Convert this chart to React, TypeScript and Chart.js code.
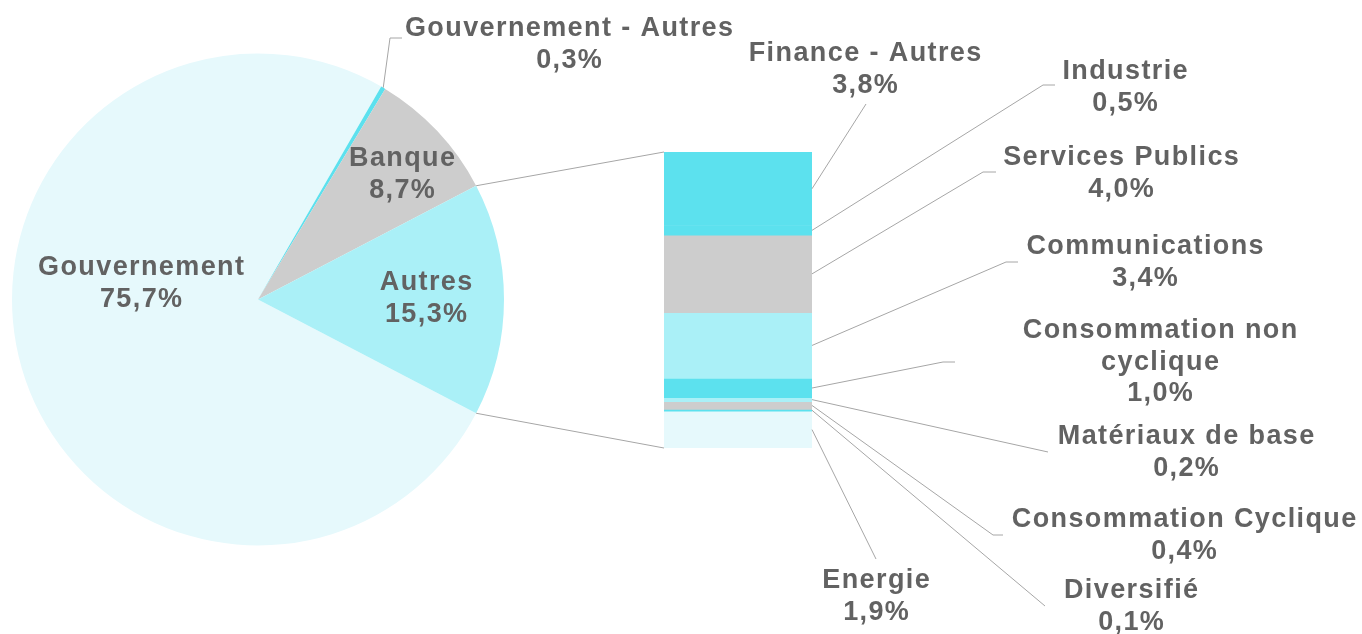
import React, { useEffect, useRef } from 'react';
import { Chart, registerables } from 'chart.js';

Chart.register(...registerables);

// ---------- data ----------
const pieLabels = ['Gouvernement', 'Gouvernement - Autres', 'Banque', 'Autres'];
const pieValues = [75.7, 0.3, 8.7, 15.3];
const pieColors = ['#e6f9fc', '#5ce1ee', '#cdcdcd', '#aaf0f7'];

const barLabels = [
  'Finance - Autres',
  'Industrie',
  'Services Publics',
  'Communications',
  'Consommation non cyclique',
  'Matériaux de base',
  'Consommation Cyclique',
  'Diversifié',
  'Energie',
];
const barValues = [3.8, 0.5, 4.0, 3.4, 1.0, 0.2, 0.4, 0.1, 1.9];
const barColors = ['#5ce1ee', '#5ce1ee', '#cdcdcd', '#aaf0f7', '#5ce1ee', '#aaf0f7', '#cdcdcd', '#5ce1ee', '#e6f9fc'];

// ---------- layout (label placement) ----------
type Pos = { x: number; y: number; maxW?: number; elbow?: number[]; end?: number[] };
const pieLabelPos: Pos[] = [
  { x: 141, y: 268 },
  { x: 569, y: 29, elbow: [390, 38], end: [402, 38] },
  { x: 402, y: 159 },
  { x: 426, y: 283 },
];
const barLabelPos: Pos[] = [
  { x: 865, y: 54, end: [866, 104] },
  { x: 1125, y: 72, elbow: [1043, 85], end: [1055, 85] },
  { x: 1121, y: 158, elbow: [983, 172], end: [996, 172] },
  { x: 1145, y: 247, elbow: [1006, 262], end: [1018, 262] },
  { x: 1160, y: 331, maxW: 300, elbow: [943, 362], end: [955, 362] },
  { x: 1186, y: 437, end: [1048, 452] },
  { x: 1184, y: 520, elbow: [993, 535], end: [1003, 535] },
  { x: 1131, y: 591, end: [1045, 606] },
  { x: 876, y: 581, end: [876, 559] },
];

const W = 1362;
const H = 634;
const FONT = 'bold 27px "Liberation Sans", Arial, sans-serif';
const LETTER_SPACING = 1.4;
const TEXT_COLOR = '#626262';
const LINE_COLOR = '#a6a6a6';
const LINE_H = 31.5;

const fmt = (v: number) => v.toFixed(1).replace('.', ',') + '%';

function wrapText(ctx: CanvasRenderingContext2D, text: string, maxW?: number): string[] {
  if (!maxW) return [text];
  const words = text.split(' ');
  const lines: string[] = [];
  let cur = '';
  for (const w of words) {
    const test = cur ? cur + ' ' + w : w;
    if (cur && ctx.measureText(test).width > maxW) {
      lines.push(cur);
      cur = w;
    } else cur = test;
  }
  if (cur) lines.push(cur);
  return lines;
}

function drawLabel(ctx: CanvasRenderingContext2D, name: string, value: number, p: Pos) {
  ctx.save();
  ctx.font = FONT;
  (ctx as any).letterSpacing = LETTER_SPACING + 'px';
  ctx.fillStyle = TEXT_COLOR;
  ctx.textAlign = 'center';
  ctx.textBaseline = 'middle';
  const lines = [...wrapText(ctx, name, p.maxW), fmt(value)];
  lines.forEach((l, i) => ctx.fillText(l, p.x + LETTER_SPACING / 2, p.y + i * LINE_H));
  ctx.restore();
}

function drawLeader(ctx: CanvasRenderingContext2D, sx: number, sy: number, p: Pos) {
  if (!p.end) return;
  ctx.save();
  ctx.strokeStyle = LINE_COLOR;
  ctx.lineWidth = 1;
  ctx.beginPath();
  ctx.moveTo(sx, sy);
  if (p.elbow) ctx.lineTo(p.elbow[0], p.elbow[1]);
  ctx.lineTo(p.end[0], p.end[1]);
  ctx.stroke();
  ctx.restore();
}

export default function App() {
  const pieRef = useRef<HTMLCanvasElement>(null);
  const barRef = useRef<HTMLCanvasElement>(null);

  useEffect(() => {
    if (!pieRef.current || !barRef.current) return;
    const pieTotal = pieValues.reduce((a, b) => a + b, 0);
    const barTotal = barValues.reduce((a, b) => a + b, 0);
    const autresIdx = pieValues.length - 1;
    const rotation = 90 + (pieValues[autresIdx] / pieTotal) * 180;

    const pieLabelPlugin = {
      id: 'pieLabels',
      afterDraw(chart: any) {
        const ctx = chart.ctx;
        const meta = chart.getDatasetMeta(0);
        meta.data.forEach((el: any, i: number) => {
          const p = pieLabelPos[i];
          if (p.end) {
            const a = (el.startAngle + el.endAngle) / 2;
            drawLeader(ctx, el.x + el.outerRadius * Math.cos(a), el.y + el.outerRadius * Math.sin(a), p);
          }
          drawLabel(ctx, pieLabels[i], pieValues[i], p);
        });
      },
    };

    const pie = new Chart(pieRef.current, {
      type: 'pie',
      data: {
        labels: pieLabels,
        datasets: [{ data: pieValues, backgroundColor: pieColors, borderWidth: 0 }],
      },
      options: {
        responsive: false,
        animation: false,
        rotation,
        layout: { padding: { left: 12, right: 858, top: 53.5, bottom: 88.5 } },
        plugins: { legend: { display: false }, tooltip: { enabled: false } },
      },
      plugins: [pieLabelPlugin],
    });

    const barLabelPlugin = {
      id: 'barLabels',
      afterDraw(chart: any) {
        const ctx = chart.ctx;
        // connectors from the "Autres" slice to the bar
        const arc: any = pie.getDatasetMeta(0).data[autresIdx];
        let top = Infinity, bottom = -Infinity, left = Infinity;
        barValues.forEach((_, i) => {
          const el: any = chart.getDatasetMeta(i).data[0];
          top = Math.min(top, el.y, el.base);
          bottom = Math.max(bottom, el.y, el.base);
          left = Math.min(left, el.x - el.width / 2);
        });
        const aS = arc.startAngle, aE = arc.endAngle;
        const p1 = [arc.x + arc.outerRadius * Math.cos(aE), arc.y + arc.outerRadius * Math.sin(aE)];
        const p2 = [arc.x + arc.outerRadius * Math.cos(aS), arc.y + arc.outerRadius * Math.sin(aS)];
        const upper = p1[1] < p2[1] ? p1 : p2;
        const lower = p1[1] < p2[1] ? p2 : p1;
        ctx.save();
        ctx.strokeStyle = LINE_COLOR;
        ctx.lineWidth = 1;
        ctx.beginPath();
        ctx.moveTo(upper[0], upper[1]);
        ctx.lineTo(left, top);
        ctx.moveTo(lower[0], lower[1]);
        ctx.lineTo(left, bottom);
        ctx.stroke();
        ctx.restore();

        barValues.forEach((v, i) => {
          const el: any = chart.getDatasetMeta(i).data[0];
          const sx = el.x + el.width / 2;
          const sy = (el.y + el.base) / 2;
          drawLeader(ctx, sx, sy, barLabelPos[i]);
          drawLabel(ctx, barLabels[i], v, barLabelPos[i]);
        });
      },
    };

    const bar = new Chart(barRef.current, {
      type: 'bar',
      data: {
        labels: ['Autres'],
        datasets: barValues.map((v, i) => ({
          label: barLabels[i],
          data: [v],
          backgroundColor: barColors[i],
          borderWidth: 0,
          barPercentage: 1,
          categoryPercentage: 1,
        })),
      },
      options: {
        responsive: false,
        animation: false,
        layout: { padding: { left: 664, right: 550, top: 152, bottom: 186 } },
        scales: {
          x: { stacked: true, display: false },
          y: { stacked: true, display: false, min: 0, max: barTotal, reverse: true },
        },
        plugins: { legend: { display: false }, tooltip: { enabled: false } },
      },
      plugins: [barLabelPlugin],
    });

    return () => {
      bar.destroy();
      pie.destroy();
    };
  }, []);

  return (
    <div style={{ position: 'absolute', left: 0, top: 0, width: W, height: H, background: '#fff' }}>
      <canvas ref={pieRef} width={W} height={H} style={{ position: 'absolute', left: 0, top: 0 }} />
      <canvas ref={barRef} width={W} height={H} style={{ position: 'absolute', left: 0, top: 0 }} />
    </div>
  );
}
